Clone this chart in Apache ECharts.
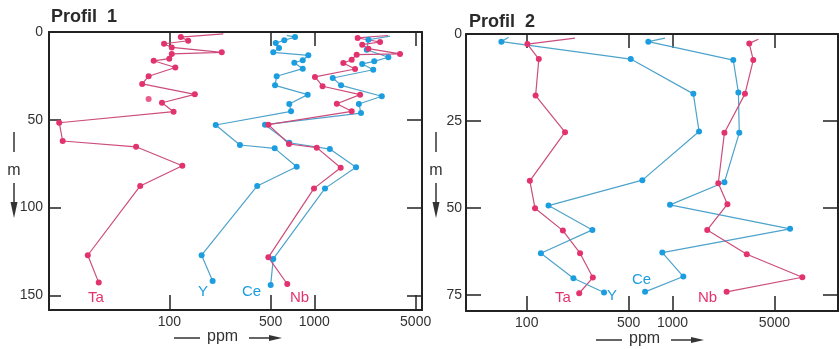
<!DOCTYPE html>
<html>
<head>
<meta charset="utf-8">
<script src="https://cdn.jsdelivr.net/npm/echarts@6/dist/echarts.min.js"></script>
<style>
  html, body { margin: 0; padding: 0; background: #fff; }
  #chart { width: 839px; height: 349px; }
</style>
</head>
<body>
<div id="chart"></div>
<script>
// tick values (ppm) and depth labels (m)
const ppmTicks = [100, 500, 1000, 5000];
const p1DepthLabels = [0, 50, 100, 150];
const p2DepthLabels = [0, 25, 50, 75];

// Profil 1 – depth (m) and concentrations (ppm)
const p1TaDepth = [1.1, 2.9, 5.0, 6.7, 8.8, 11.6, 12.5, 15.2, 16.4, 20.2, 25.2, 29.6, 35.5, 40.3, 45.4, 51.7, 62.1, 65.4, 76.2, 87.7, 127.2, 142.8];
const p1Ta = [236, 120, 135, 92, 104, 230, 104, 100, 78, 110, 72, 65, 150, 89, 107, 17.4, 18.4, 59, 123, 63, 27.4, 32.6];
const p1TaExtraDepth = [38.2];
const p1TaExtra = [72];

const p1YDepth = [1.9, 2.9, 4.7, 6.3, 9.1, 11.6, 13.3, 16.1, 17.5, 20.9, 25.2, 30.4, 35.7, 41.0, 45.2, 53.0, 64.4, 66.3, 76.8, 87.7, 127.2, 141.9];
const p1Y = [645, 736, 621, 542, 571, 521, 909, 832, 728, 832, 550, 536, 900, 672, 691, 209, 307, 533, 756, 404, 167, 199];

const p1CeDepth = [2.4, 4.4, 10.1, 14.4, 16.7, 18.2, 21.5, 26.2, 30.4, 36.6, 41.0, 46.2, 52.8, 63.1, 66.7, 77.1, 89.1, 129.3, 144.2];
const p1Ce = [3330, 2360, 2300, 3240, 2590, 2140, 2550, 1340, 1530, 2920, 2030, 2100, 457, 672, 1280, 1940, 1185, 521, 500];

const p1NbDepth = [2.0, 3.4, 5.7, 7.2, 9.5, 12.5, 12.9, 15.8, 17.7, 21.1, 25.6, 30.9, 35.7, 40.9, 45.2, 52.8, 63.8, 65.9, 77.3, 89.1, 128.4, 143.6];
const p1Nb = [3220, 1990, 2840, 2140, 2360, 3900, 1960, 1810, 1585, 1910, 1010, 1140, 2070, 1430, 1810, 482, 669, 1040, 1520, 995, 482, 651];

// Profil 2
const p2TaDepth = [1.2, 2.9, 7.2, 17.7, 28.2, 42.2, 50.1, 56.5, 63.0, 70.0, 74.5];
const p2Ta = [214, 101, 121, 115, 183, 105, 114, 177, 232, 284, 229];

const p2YDepth = [0.95, 2.2, 7.2, 17.2, 28.0, 42.0, 49.3, 56.3, 63.0, 70.2, 74.3];
const p2Y = [75, 67, 517, 1390, 1520, 621, 141, 282, 125, 209, 339];

const p2CeDepth = [1.2, 2.2, 7.5, 16.8, 28.4, 42.6, 49.1, 56.0, 62.8, 69.7, 74.1];
const p2Ce = [888, 682, 2610, 2830, 2870, 2270, 961, 6400, 851, 1186, 648];

const p2NbDepth = [1.5, 2.7, 7.5, 17.2, 28.4, 42.9, 48.9, 56.3, 63.3, 69.9, 74.1];
const p2Nb = [3880, 3360, 3580, 3140, 2270, 2060, 2380, 1730, 3230, 7770, 2350];

const PINK = '#e3336f';
const PINK_LINE = '#cc4c7c';
const BLUE = '#1b9de0';
const BLUE_LINE = '#4ea3cc';
const AXIS = '#222';
const FONT = '"Liberation Sans", Arial, sans-serif';

const log = v => Math.log10(v);

const chart = echarts.init(document.getElementById('chart'));

const grids = [
  { left: 49, top: 32, width: 373, height: 278 },
  { left: 466, top: 34, width: 372, height: 277 }
];
const xRange = [[log(14.8), log(5530)], [log(38.3), log(13650)]];
const yMax = [158.4, 79.6];
const depthLabels = [p1DepthLabels, p2DepthLabels];

const xAxes = [];
const yAxes = [];
[0, 1].forEach(g => {
  const tickVals = ppmTicks.map(log);
  const base = {
    type: 'value', gridIndex: g, min: xRange[g][0], max: xRange[g][1],
    splitLine: { show: false },
    axisLine: { show: true, onZero: false, lineStyle: { color: AXIS, width: 2 } }
  };
  xAxes.push(Object.assign({}, base, {
    position: 'bottom',
    axisTick: { show: true, inside: true, length: 15, customValues: tickVals, lineStyle: { color: AXIS, width: 1.5 } },
    axisLabel: {
      customValues: tickVals, margin: 5, color: '#333', fontSize: 14, fontFamily: FONT,
      formatter: v => String(Math.round(Math.pow(10, v)))
    }
  }));
  xAxes.push(Object.assign({}, base, {
    position: 'top',
    axisTick: { show: true, inside: true, length: 14, customValues: tickVals, lineStyle: { color: AXIS, width: 1.5 } },
    axisLabel: { show: false }
  }));

  const dl = depthLabels[g];
  const ybase = {
    type: 'value', gridIndex: g, inverse: true, min: 0, max: yMax[g],
    splitLine: { show: false },
    axisLine: { show: true, onZero: false, lineStyle: { color: AXIS, width: 2 } }
  };
  yAxes.push(Object.assign({}, ybase, {
    position: 'left',
    axisTick: { show: true, inside: true, length: g === 0 ? 12 : 15, customValues: dl.slice(1), lineStyle: { color: AXIS, width: 1.5 } },
    axisLabel: { customValues: dl, margin: g === 0 ? 6 : 4, color: '#333', fontSize: 14, fontFamily: FONT }
  }));
  yAxes.push(Object.assign({}, ybase, {
    position: 'right',
    axisTick: { show: true, inside: true, length: 15, customValues: dl.slice(1), lineStyle: { color: AXIS, width: 1.5 } },
    axisLabel: { show: false }
  }));
});

function profile(name, ppm, depth, g, color, lineColor) {
  return {
    name: name,
    type: 'line',
    xAxisIndex: g * 2,
    yAxisIndex: g * 2,
    symbol: 'circle',
    data: ppm.map((v, i) => ({ value: [log(v), depth[i]], symbolSize: i === 0 ? 0 : 6 })),
    itemStyle: { color: color },
    lineStyle: { color: lineColor, width: 1.2 },
    z: 3
  };
}

const series = [
  profile('Ta', p1Ta, p1TaDepth, 0, PINK, PINK_LINE),
  {
    name: 'Ta', type: 'scatter', xAxisIndex: 0, yAxisIndex: 0, symbolSize: 6,
    data: p1TaExtra.map((v, i) => [log(v), p1TaExtraDepth[i]]),
    itemStyle: { color: PINK }
  },
  profile('Y', p1Y, p1YDepth, 0, BLUE, BLUE_LINE),
  profile('Ce', p1Ce, p1CeDepth, 0, BLUE, BLUE_LINE),
  profile('Nb', p1Nb, p1NbDepth, 0, PINK, PINK_LINE),
  profile('Ta', p2Ta, p2TaDepth, 1, PINK, PINK_LINE),
  profile('Y', p2Y, p2YDepth, 1, BLUE, BLUE_LINE),
  profile('Ce', p2Ce, p2CeDepth, 1, BLUE, BLUE_LINE),
  profile('Nb', p2Nb, p2NbDepth, 1, PINK, PINK_LINE)
];

// decorations: series names, depth and ppm captions
const txt = (x, y, text, color, size, extra) => ({
  type: 'text', x: x, y: y,
  style: Object.assign({ text: text, fill: color, font: (size || 15) + 'px ' + FONT, textVerticalAlign: 'middle' }, extra || {})
});
const ln = (x1, y1, x2, y2) => ({ type: 'line', shape: { x1, y1, x2, y2 }, style: { stroke: '#333', lineWidth: 1.5 } });
const tri = pts => ({ type: 'polygon', shape: { points: pts }, style: { fill: '#333' } });

function depthCaption(x, top) {
  return [
    ln(x, top, x, top + 20),
    txt(x, top + 39, 'm', '#333', 16, { textAlign: 'center' }),
    ln(x, top + 51, x, top + 76),
    tri([[x - 3.5, top + 70], [x + 3.5, top + 70], [x, top + 86]])
  ];
}
function ppmCaption(x, y) {
  return [
    ln(x, y, x + 26, y),
    txt(x + 33, y - 1, 'ppm', '#333', 16),
    ln(x + 75, y, x + 100, y),
    tri([[x + 95, y - 3], [x + 95, y + 3], [x + 108, y]])
  ];
}

const graphic = [].concat(
  depthCaption(14, 132),
  depthCaption(436, 132),
  ppmCaption(174, 338),
  ppmCaption(596, 340),
  [
    txt(88, 298, 'Ta', PINK),
    txt(198, 292, 'Y', BLUE),
    txt(242, 292, 'Ce', BLUE),
    txt(290, 298, 'Nb', PINK),
    txt(555, 298, 'Ta', PINK),
    txt(607, 296, 'Y', BLUE),
    txt(632, 280, 'Ce', BLUE),
    txt(698, 298, 'Nb', PINK)
  ]
);

chart.setOption({
  animation: false,
  title: [
    { text: 'Profil  1', left: 46, top: 3, textStyle: { fontSize: 18, fontWeight: 'bold', color: '#2a2a2a', fontFamily: FONT } },
    { text: 'Profil  2', left: 464, top: 8, textStyle: { fontSize: 18, fontWeight: 'bold', color: '#2a2a2a', fontFamily: FONT } }
  ],
  grid: grids,
  xAxis: xAxes,
  yAxis: yAxes,
  series: series,
  graphic: graphic
});

window.addEventListener('resize', () => chart.resize());
</script>
</body>
</html>
